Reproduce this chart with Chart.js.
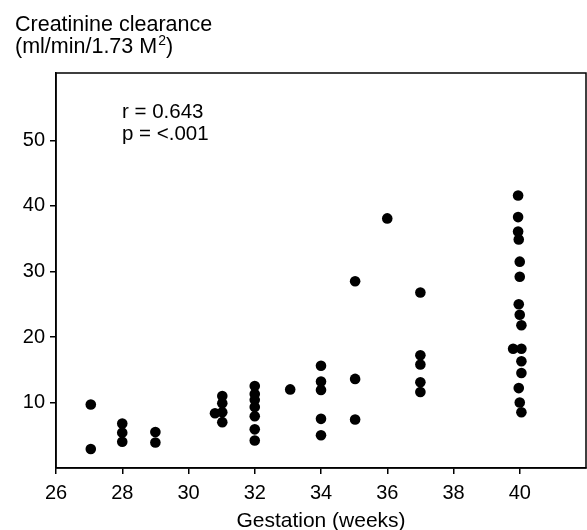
<!DOCTYPE html>
<html lang="en">
<head>
    <meta charset="UTF-8">
    <title>Creatinine clearance vs gestation</title>
    <script src="https://cdn.jsdelivr.net/npm/chart.js"></script>
    <style>
        body { margin: 0; background: #fff; }
    </style>
</head>
<body>
    <canvas id="myChart" width="587" height="530"></canvas>

    <script>
        // gestation (weeks) and creatinine clearance, one entry per dot
        const weeks = [
            27.05, 27.05,
            28, 28, 28,
            29, 29,
            30.8,
            31.02, 31.02, 31.02, 31.02,
            32, 32, 32, 32, 32, 32, 32,
            33.07,
            34, 34, 34, 34, 34,
            35.03, 35.03, 35.03,
            36,
            37, 37, 37, 37, 37,
            39.95, 39.95, 39.95, 39.97, 40, 40, 39.97, 40, 40.05, 39.8, 40.05, 40.05, 40.05, 39.97, 40, 40.05
        ]
        const clearance = [
            9.7, 2.9,
            6.8, 5.4, 4.0,
            5.5, 3.9,
            8.35,
            11.0, 9.9, 8.5, 7.0,
            12.5, 11.3, 10.4, 9.3, 7.9, 5.9, 4.2,
            12.0,
            15.6, 13.2, 11.9, 7.5, 5.0,
            28.5, 13.6, 7.4,
            38.1,
            26.8, 17.2, 15.8, 13.1, 11.6,
            41.6, 38.3, 36.1, 34.9, 31.5, 29.2, 25.0, 23.4, 21.8, 18.2, 18.2, 16.3, 14.5, 12.2, 10.0, 8.5
        ]
        const xTicks = [26, 28, 30, 32, 34, 36, 38, 40]
        const yTicks = [10, 20, 30, 40, 50]

        const points = weeks.map((w, i) => ({ x: w, y: clearance[i] }))

        const fontName = '"Liberation Sans", Arial, Helvetica, sans-serif'

        // texts around the plot and the box on top/right
        const extras = {
            id: 'extras',
            afterDraw(chart) {
                const ctx = chart.ctx
                const a = chart.chartArea
                ctx.save()
                ctx.strokeStyle = '#000'
                ctx.lineWidth = 1.5
                ctx.strokeRect(a.left, a.top, a.right - a.left, a.bottom - a.top)

                ctx.fillStyle = '#000'
                ctx.textBaseline = 'alphabetic'
                ctx.textAlign = 'left'
                ctx.font = '21.5px ' + fontName
                ctx.fillText('Creatinine clearance', 15, 31)
                let s = '(ml/min/1.73 M'
                ctx.fillText(s, 15, 53)
                let x = 15 + ctx.measureText(s).width
                ctx.font = '14px ' + fontName
                ctx.fillText('2', x + 1, 45)
                x += 1 + ctx.measureText('2').width
                ctx.font = '21.5px ' + fontName
                ctx.fillText(')', x, 53)

                ctx.font = '20.5px ' + fontName
                ctx.fillText('r = 0.643', 122, 117.5)
                ctx.fillText('p = <.001', 122, 140)

                ctx.textAlign = 'center'
                ctx.font = '21px ' + fontName
                ctx.fillText('Gestation (weeks)', (a.left + a.right) / 2, 527)
                ctx.restore()
            }
        }

        const ctx = document.getElementById('myChart').getContext('2d')
        const myChart = new Chart(ctx, {
            type: 'scatter',
            data: {
                datasets: [{
                    data: points,
                    pointRadius: 5.3,
                    pointBackgroundColor: '#000',
                    pointBorderWidth: 0
                }]
            },
            options: {
                responsive: false,
                animation: false,
                devicePixelRatio: 1,
                layout: { autoPadding: false, padding: { top: 73, right: 1, left: 0, bottom: 0 } },
                plugins: {
                    legend: { display: false },
                    tooltip: { enabled: false }
                },
                scales: {
                    x: {
                        type: 'linear',
                        min: 26,
                        max: 42,
                        afterBuildTicks: (scale) => { scale.ticks = xTicks.map(v => ({ value: v })) },
                        afterFit: (scale) => {
                            scale.height = 62
                            scale.paddingLeft = 0
                            scale.paddingRight = 0
                        },
                        grid: { drawOnChartArea: false, drawTicks: true, tickLength: 6, color: '#000', lineWidth: 1.5 },
                        border: { display: true, color: '#000', width: 1.5 },
                        ticks: { color: '#000', font: { size: 20, family: fontName }, padding: 7, maxRotation: 0 }
                    },
                    y: {
                        min: 0,
                        max: 60.3,
                        afterBuildTicks: (scale) => { scale.ticks = yTicks.map(v => ({ value: v })) },
                        afterFit: (scale) => {
                            scale.width = 56
                            scale.paddingTop = 0
                            scale.paddingBottom = 0
                        },
                        grid: { drawOnChartArea: false, drawTicks: true, tickLength: 6, color: '#000', lineWidth: 1.5 },
                        border: { display: true, color: '#000', width: 1.5 },
                        ticks: { color: '#000', font: { size: 20, family: fontName }, padding: 5 }
                    }
                }
            },
            plugins: [extras]
        })
    </script>
</body>
</html>
